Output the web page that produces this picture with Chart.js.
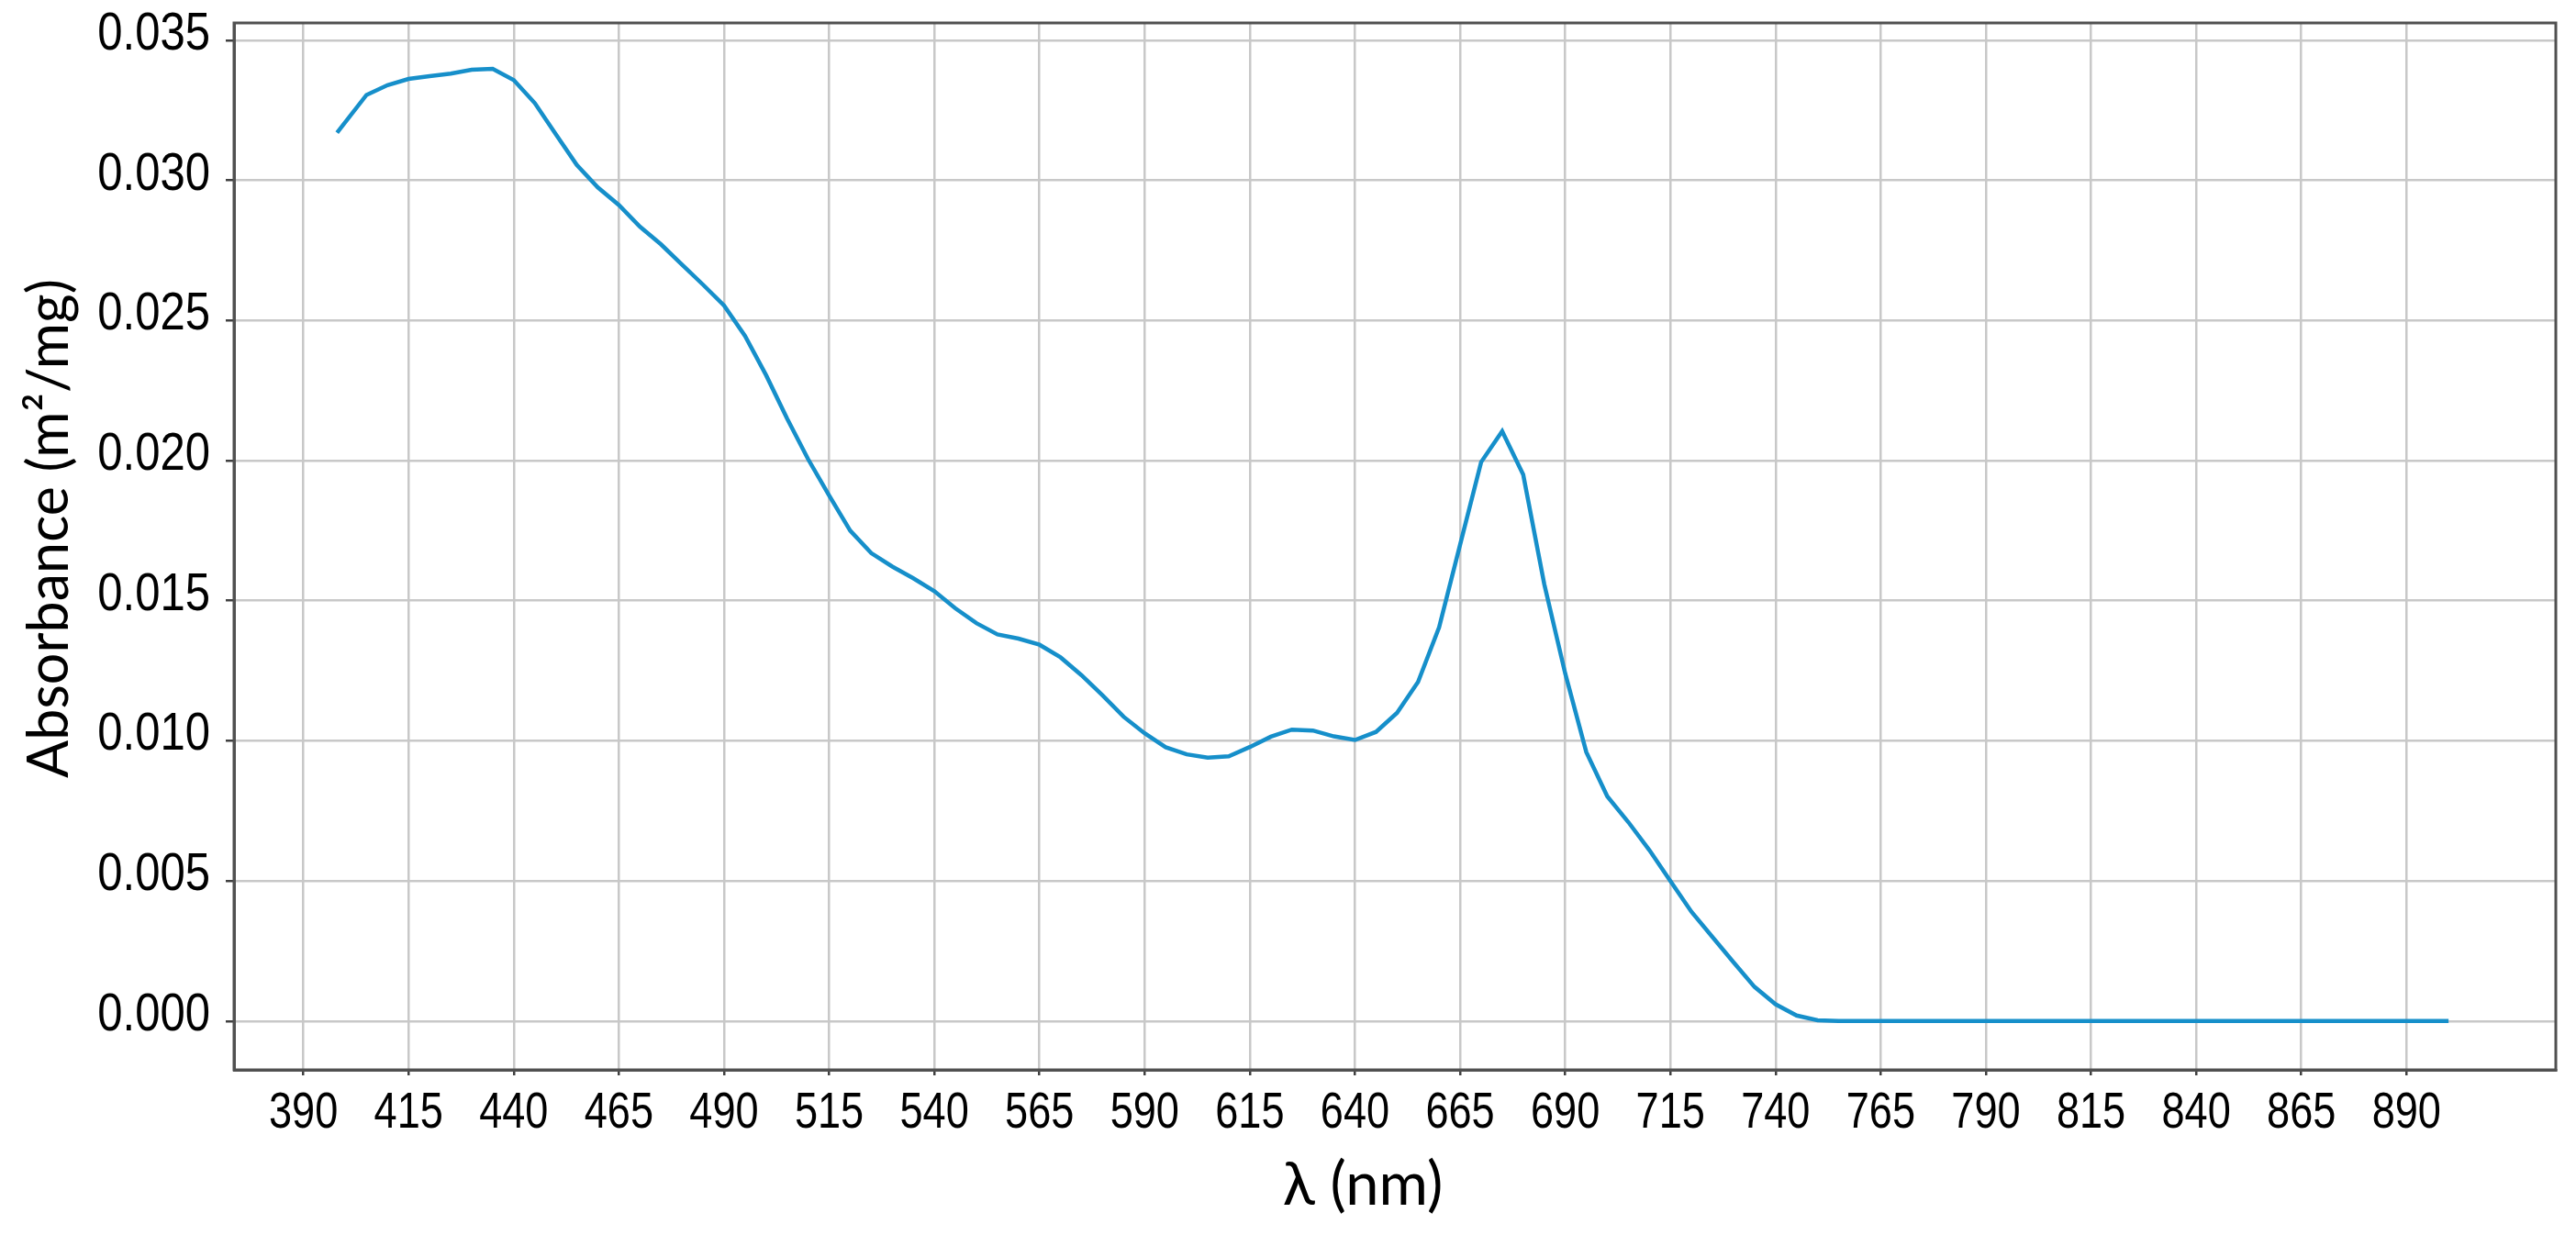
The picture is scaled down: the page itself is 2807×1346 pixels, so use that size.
<!DOCTYPE html>
<html>
<head>
<meta charset="utf-8">
<script src="https://cdn.jsdelivr.net/npm/chart.js@4.4.1/dist/chart.umd.min.js"></script>
<style>
  html, body { margin: 0; padding: 0; background: #ffffff; }
  #chart { display: block; }
</style>
</head>
<body>
<canvas id="chart" width="2807" height="1346" style="width:2807px;height:1346px"></canvas>
<script>
// wavelength (nm) and absorbance (m2/mg)
const wavelengths = [
  398, 405, 410, 415, 420, 425, 430, 435, 440, 445,
  450, 455, 460, 465, 470, 475, 480, 485, 490, 495,
  500, 505, 510, 515, 520, 525, 530, 535, 540, 545,
  550, 555, 560, 565, 570, 575, 580, 585, 590, 595,
  600, 605, 610, 615, 620, 625, 630, 635, 640, 645,
  650, 655, 660, 665, 670, 675, 680, 685, 690, 695,
  700, 705, 710, 715, 720, 725, 730, 735, 740, 745,
  750, 755, 760, 780, 800, 820, 840, 860, 880, 900
];
const absorbance = [
  0.03170, 0.03305, 0.03340, 0.03362, 0.03372, 0.03381, 0.03395, 0.03398, 0.03358, 0.03276,
  0.03165, 0.03055, 0.02975, 0.02912, 0.02835, 0.02772, 0.02700, 0.02628, 0.02554, 0.02445,
  0.02305, 0.02150, 0.02005, 0.01875, 0.01750, 0.01670, 0.01622, 0.01580, 0.01534, 0.01473,
  0.01420, 0.01380, 0.01365, 0.01343, 0.01298, 0.01234, 0.01162, 0.01086, 0.01027, 0.00977,
  0.00952, 0.00940, 0.00945, 0.00978, 0.01015, 0.01040, 0.01037, 0.01016, 0.01003, 0.01032,
  0.01100, 0.01210, 0.01405, 0.01700, 0.01995, 0.02105, 0.01950, 0.01560, 0.01240, 0.00960,
  0.00802, 0.00710, 0.00610, 0.00500, 0.00390, 0.00300, 0.00210, 0.00122, 0.00060, 0.00020,
  0.00003, 0, 0, 0, 0, 0, 0, 0, 0, 0
];

const xTicks = [390, 415, 440, 465, 490, 515, 540, 565, 590, 615, 640, 665, 690, 715, 740, 765, 790, 815, 840, 865, 890];
const yTicks = [0.000, 0.005, 0.010, 0.015, 0.020, 0.025, 0.030, 0.035];

const xTitle = "λ (nm)";
const yTitle = "Absorbance (m²/mg)";

const points = wavelengths.map(function (w, i) {
  return { x: w, y: absorbance[i] };
});

// the tick labels are in a narrow face; squeeze Liberation Sans to get it
function narrowText(ctx, text, x, y, squeeze, align) {
  ctx.save();
  ctx.translate(x, y);
  ctx.scale(squeeze, 1);
  ctx.textAlign = align;
  ctx.fillText(text, 0, 0);
  ctx.restore();
}

// box round the plot area, tick labels and the two axis titles
const frame = {
  id: "frame",
  afterDraw(chart) {
    const a = chart.chartArea;
    const ctx = chart.ctx;
    const xs = chart.scales.x;
    const ys = chart.scales.y;
    ctx.save();
    ctx.strokeStyle = "#505050";
    ctx.lineWidth = 3;
    ctx.strokeRect(a.left, a.top, a.right - a.left, a.bottom - a.top);

    ctx.fillStyle = "#000000";
    ctx.textBaseline = "alphabetic";
    ctx.font = "55px 'Liberation Sans', Arial, sans-serif";
    xTicks.forEach(function (v) {
      narrowText(ctx, String(v), xs.getPixelForValue(v), a.bottom + 63, 0.82, "center");
    });
    ctx.font = "57px 'Liberation Sans', Arial, sans-serif";
    yTicks.forEach(function (v) {
      narrowText(ctx, v.toFixed(3), a.left - 26, ys.getPixelForValue(v) + 10, 0.86, "right");
    });

    ctx.textAlign = "center";
    ctx.textBaseline = "middle";
    ctx.font = "65px Lato, 'Open Sans', sans-serif";
    ctx.fillText(xTitle, 1485, 1292);

    ctx.translate(54, 576);
    ctx.rotate(-Math.PI / 2);
    ctx.font = "61px Lato, 'Open Sans', sans-serif";
    ctx.fillText(yTitle, 0, 0);
    ctx.restore();
  },
};

new Chart(document.getElementById("chart").getContext("2d"), {
  type: "line",
  data: {
    datasets: [
      {
        data: points,
        borderColor: "#168fca",
        borderWidth: 4.5,
        pointRadius: 0,
        tension: 0,
        fill: false,
      },
    ],
  },
  options: {
    responsive: false,
    animation: false,
    devicePixelRatio: 1,
    layout: { padding: { left: 0, right: 22, top: 25, bottom: 0 } },
    plugins: {
      legend: { display: false },
      tooltip: { enabled: false },
    },
    scales: {
      x: {
        type: "linear",
        min: 373.5,
        max: 925.5,
        afterBuildTicks: function (scale) {
          scale.ticks = xTicks.map((v) => ({ value: v }));
        },
        afterFit: function (scale) {
          scale.height = 180;
        },
        ticks: { display: false, autoSkip: false },
        grid: {
          color: "#c8c8c8",
          lineWidth: 2.5,
          tickLength: 6,
          tickColor: "#404040",
          tickWidth: 2.5,
        },
        border: { display: true, color: "#505050", width: 3 },
      },
      y: {
        type: "linear",
        min: -0.00174,
        max: 0.03562,
        afterBuildTicks: function (scale) {
          scale.ticks = yTicks.map((v) => ({ value: v }));
        },
        afterFit: function (scale) {
          scale.width = 255;
        },
        ticks: { display: false, autoSkip: false },
        grid: {
          color: "#c8c8c8",
          lineWidth: 2.5,
          tickLength: 9,
          tickColor: "#404040",
          tickWidth: 2.5,
        },
        border: { display: true, color: "#505050", width: 3 },
      },
    },
  },
  plugins: [frame],
});
</script>
</body>
</html>
